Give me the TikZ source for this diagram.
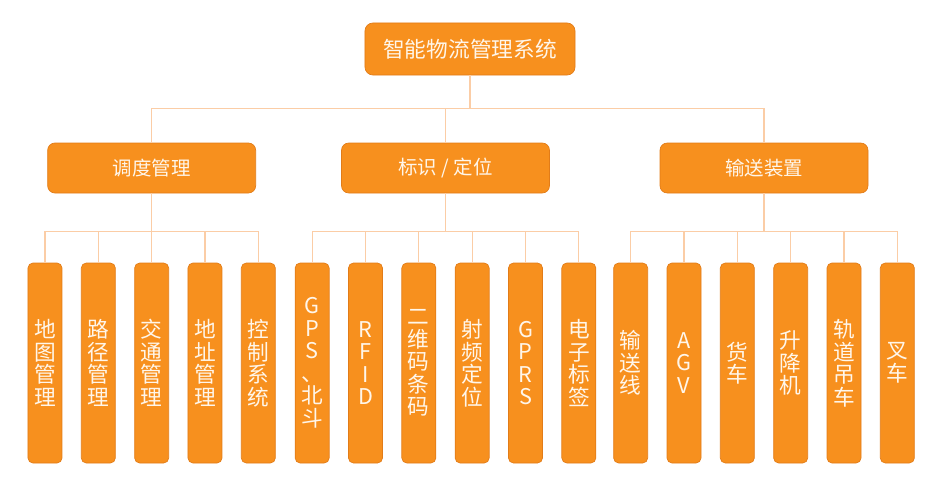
\documentclass[tikz,border=0pt]{standalone}
\usepackage{fontspec}
\usepackage{xcolor}
\usepackage{tikz}
\usetikzlibrary{positioning}
\newfontfamily\cjk{Noto Sans CJK SC}

\definecolor{boxfill}{HTML}{F7901E}
\definecolor{boxline}{HTML}{E27C18}
\definecolor{linkline}{HTML}{FBCDA6}
\definecolor{boxtext}{HTML}{FFF6EA}

\begin{document}
\begin{tikzpicture}[
    every node/.style={draw=boxline, fill=boxfill, text=boxtext, align=center, line width=0.6pt},
    top/.style={rounded corners=0.24cm, minimum width=6.3cm, minimum height=1.56cm, font=\cjk\fontsize{18.5}{20}\selectfont},
    group/.style={rounded corners=0.22cm, minimum width=6.24cm, minimum height=1.5cm, font=\cjk\fontsize{16.6}{18}\selectfont},
    bar/.style={rounded corners=0.15cm, minimum width=1.02cm, minimum height=6cm, inner sep=1pt, font=\cjk\fontsize{18.5}{19.2}\selectfont},
    link/.style={draw=linkline, line width=1pt}]
    \useasboundingbox (-14.1,1.47) rectangle (14.28,-13.05);
    \node[top] (root) at (0,0) {智能物流管理系统};
    % second level
    \node[group, node distance=3.57cm] (dispatch) [below of=root, xshift=-9.55cm] {调度管理};
    \node[group, node distance=3.57cm] (ident) [below of=root, xshift=-0.735cm] {标识 / 定位};
    \node[group, node distance=3.57cm] (transport) [below of=root, xshift=8.82cm] {输送装置};
    % dispatch bars
    \node[bar, node distance=5.85cm] (map) [below of=dispatch, xshift=-3.2cm] {地\\图\\管\\理};
    \node[bar, node distance=1.6cm] (route) [right of=map] {路\\径\\管\\理};
    \node[bar, node distance=1.6cm] (traffic) [right of=route] {交\\通\\管\\理};
    \node[bar, node distance=1.6cm] (address) [right of=traffic] {地\\址\\管\\理};
    \node[bar, node distance=1.6cm] (control) [right of=address] {控\\制\\系\\统};
    % ident bars
    \node[bar, node distance=5.85cm] (gps) [below of=ident, xshift=-4cm] {G\\P\\S\\、\\北\\斗};
    \node[bar, node distance=1.6cm] (rfid) [right of=gps] {R\\F\\I\\D};
    \node[bar, node distance=1.6cm] (qrcode) [right of=rfid] {二\\维\\码\\条\\码};
    \node[bar, node distance=1.6cm] (radio) [right of=qrcode] {射\\频\\定\\位};
    \node[bar, node distance=1.6cm] (gprs) [right of=radio] {G\\P\\R\\S};
    \node[bar, node distance=1.6cm] (tag) [right of=gprs] {电\\子\\标\\签};
    % transport bars
    \node[bar, node distance=5.85cm] (conveyor) [below of=transport, xshift=-4cm] {输\\送\\线};
    \node[bar, node distance=1.6cm] (agv) [right of=conveyor] {A\\G\\V};
    \node[bar, node distance=1.6cm] (truck) [right of=agv] {货\\车};
    \node[bar, node distance=1.6cm] (lift) [right of=truck] {升\\降\\机};
    \node[bar, node distance=1.6cm] (crane) [right of=lift] {轨\\道\\吊\\车};
    \node[bar, node distance=1.6cm] (forklift) [right of=crane] {叉\\车};
    % links
    \draw[link] (root.south) -- ++(0,-0.99) -| (dispatch.north);
    \draw[link] (root.south) -- ++(0,-0.99) -| (ident.north);
    \draw[link] (root.south) -- ++(0,-0.99) -| (transport.north);
    \draw[link] (dispatch.south) -- ++(0,-1.14) -| (map.north);
    \draw[link] (dispatch.south) -- ++(0,-1.14) -| (route.north);
    \draw[link] (dispatch.south) -- ++(0,-1.14) -| (traffic.north);
    \draw[link] (dispatch.south) -- ++(0,-1.14) -| (address.north);
    \draw[link] (dispatch.south) -- ++(0,-1.14) -| (control.north);
    \draw[link] (ident.south) -- ++(0,-1.14) -| (gps.north);
    \draw[link] (ident.south) -- ++(0,-1.14) -| (rfid.north);
    \draw[link] (ident.south) -- ++(0,-1.14) -| (qrcode.north);
    \draw[link] (ident.south) -- ++(0,-1.14) -| (radio.north);
    \draw[link] (ident.south) -- ++(0,-1.14) -| (gprs.north);
    \draw[link] (ident.south) -- ++(0,-1.14) -| (tag.north);
    \draw[link] (transport.south) -- ++(0,-1.14) -| (conveyor.north);
    \draw[link] (transport.south) -- ++(0,-1.14) -| (agv.north);
    \draw[link] (transport.south) -- ++(0,-1.14) -| (truck.north);
    \draw[link] (transport.south) -- ++(0,-1.14) -| (lift.north);
    \draw[link] (transport.south) -- ++(0,-1.14) -| (crane.north);
    \draw[link] (transport.south) -- ++(0,-1.14) -| (forklift.north);
\end{tikzpicture}
\end{document}
